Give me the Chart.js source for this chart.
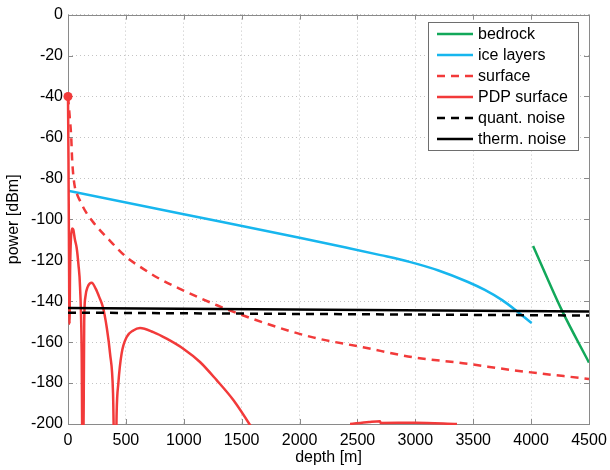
<!DOCTYPE html>
<html>
<head>
<meta charset="utf-8">
<script src="https://cdn.jsdelivr.net/npm/chart.js@4/dist/chart.umd.min.js"></script>
<style>
  html, body { margin: 0; padding: 0; background: #fff; }
  #wrap { width: 610px; height: 470px; }
</style>
</head>
<body>
<div id="wrap"><canvas id="powerChart"></canvas></div>
<script>
// axis ticks
const xTicks = [0, 500, 1000, 1500, 2000, 2500, 3000, 3500, 4000, 4500];
const yTicks = [0, -20, -40, -60, -80, -100, -120, -140, -160, -180, -200];

// series (depth in m, power in dBm)
const bedrockDepth = [4017, 4266, 4500];
const bedrockPower = [-113, -144.5, -170];

const iceDepth = [0, 1000, 2000, 2400, 2700, 2950, 3200, 3450, 3600, 3750, 3880, 4005];
const icePower = [-86, -97.5, -109, -113.8, -117.5, -120.8, -125, -130.5, -134.5, -139.5, -145, -150.7];

const surfaceDepth = [0, 15, 28, 35, 45, 60, 80, 104, 150, 219, 363, 507, 650, 766, 967, 1287, 1684, 2116, 2548, 2980, 3412, 3843, 4500];
const surfacePower = [-40, -50, -60, -70, -78, -84.5, -88, -91, -96, -101.5, -110.5, -118.6, -124.2, -128.3, -134, -142, -150.4, -157.7, -162.5, -167.4, -170.3, -173.7, -178];

const pdpDepth = [0, 4, 8, 13, 18, 25, 35, 45, 60, 75, 90, 104, 118, 127,
  130, 140, 150, 170, 205, 240, 270, 302, 335, 363, 389, 406,
  410, 420, 435, 463, 507, 564, 622, 737, 852, 996, 1140, 1284, 1428, 1572, 1620,
  2000,
  2436, 2600, 2695, 2700, 3000, 3360];
const pdpPower = [-40, -70, -110, -151, -125, -110, -104.5, -105, -110, -114, -122, -133, -165, -235,
  -235, -150, -138, -133, -131, -134, -138, -143, -153, -165.5, -185, -235,
  -235, -195, -180, -165.6, -157.5, -154.3, -153.1, -155.1, -158.3, -163.2, -169.7, -178.6, -188.3, -200.5, -205,
  null,
  -200, -199, -198.6, -199.5, -199.4, -200];

const quantDepth = [0, 4500];
const quantPower = [-145.6, -147];
const thermDepth = [0, 4500];
const thermPower = [-143.3, -145];

const zip = (xs, ys) => xs.map((x, i) => ({ x: x, y: ys[i] }));

const FONT = 'Liberation Sans, Arial, Helvetica, sans-serif';
const RED = '#f23a3a';

// axes box with inward ticks, drawn under the curves
const axesBox = {
    id: 'axesBox',
    beforeDatasetsDraw(chart) {
        const { ctx, chartArea: a, scales } = chart;
        ctx.save();
        ctx.strokeStyle = '#8a8a8a';
        ctx.lineWidth = 1;
        ctx.strokeRect(Math.round(a.left) + 0.5, Math.round(a.top) + 0.5,
            Math.round(a.right - a.left), Math.round(a.bottom - a.top));
        ctx.beginPath();
        xTicks.forEach(v => {
            const px = Math.round(scales.x.getPixelForValue(v)) + 0.5;
            ctx.moveTo(px, a.bottom); ctx.lineTo(px, a.bottom - 5);
            ctx.moveTo(px, a.top); ctx.lineTo(px, a.top + 5);
        });
        yTicks.forEach(v => {
            const py = Math.round(scales.y.getPixelForValue(v)) + 0.5;
            ctx.moveTo(a.left, py); ctx.lineTo(a.left + 5, py);
            ctx.moveTo(a.right, py); ctx.lineTo(a.right - 5, py);
        });
        ctx.stroke();
        ctx.restore();
    }
};

// legend box in the upper right corner
const cornerLegend = {
    id: 'cornerLegend',
    afterDatasetsDraw(chart) {
        const { ctx } = chart;
        const bx = 428, by = 22, bw = 150, bh = 128;
        ctx.save();
        ctx.fillStyle = '#fff';
        ctx.fillRect(bx, by, bw, bh);
        ctx.strokeStyle = '#6e6e6e';
        ctx.lineWidth = 1;
        ctx.strokeRect(bx + 0.5, by + 0.5, bw, bh);
        ctx.font = '16px ' + FONT;
        ctx.textBaseline = 'middle';
        chart.data.datasets.forEach((ds, i) => {
            const y = by + 12 + i * 21;
            ctx.strokeStyle = ds.borderColor;
            ctx.lineWidth = 2.5;
            ctx.setLineDash(ds.borderDash || []);
            ctx.beginPath();
            ctx.moveTo(437, y); ctx.lineTo(473, y);
            ctx.stroke();
            ctx.setLineDash([]);
            ctx.fillStyle = '#000';
            ctx.fillText(ds.label, 478, y + 1);
        });
        ctx.restore();
    }
};

const line = (label, xs, ys, color, dash, extra) => Object.assign({
    label: label,
    data: zip(xs, ys),
    borderColor: color,
    backgroundColor: color,
    borderWidth: 2.5,
    borderDash: dash,
    pointRadius: 0,
    fill: false,
    spanGaps: false,
    cubicInterpolationMode: 'monotone'
}, extra || {});

new Chart(document.getElementById('powerChart'), {
    type: 'line',
    data: {
        datasets: [
            line('bedrock', bedrockDepth, bedrockPower, '#12a85a', [], { order: 6 }),
            line('ice layers', iceDepth, icePower, '#17b6ee', [], { order: 5 }),
            line('surface', surfaceDepth, surfacePower, RED, [8, 6], { order: 4 }),
            line('PDP surface', pdpDepth, pdpPower, RED, [], {
                order: 3,
                clip: { left: 6, top: 2, right: 2, bottom: 1 },
                pointRadius: ctx => ctx.dataIndex === 0 ? 4.5 : 0,
                pointBackgroundColor: RED,
                pointBorderColor: RED,
                pointBorderWidth: 0
            }),
            line('quant. noise', quantDepth, quantPower, '#000', [8, 6], { order: 2 }),
            line('therm. noise', thermDepth, thermPower, '#000', [], { order: 1 })
        ]
    },
    options: {
        responsive: true,
        maintainAspectRatio: false,
        animation: false,
        layout: { padding: { top: 13, right: 21, left: 0, bottom: 0 } },
        plugins: { legend: { display: false }, tooltip: { enabled: false } },
        scales: {
            x: {
                type: 'linear',
                min: 0,
                max: 4500,
                afterBuildTicks: s => { s.ticks = xTicks.map(v => ({ value: v })); },
                afterFit: s => { s.height = 46; },
                ticks: { color: '#000', font: { family: FONT, size: 16 }, padding: 2, maxRotation: 0, callback: v => String(v) },
                grid: { color: '#c4c4c4', drawTicks: true, tickLength: 5, tickColor: 'rgba(0,0,0,0)', lineWidth: 1 },
                border: { display: false, dash: [1, 3] },
                title: { display: true, text: 'depth [m]', color: '#000', font: { family: FONT, size: 16 }, padding: { top: 0, bottom: 3 } }
            },
            y: {
                type: 'linear',
                min: -200,
                max: 0,
                afterBuildTicks: s => { s.ticks = yTicks.map(v => ({ value: v })); },
                afterFit: s => { s.width = 68; },
                ticks: { color: '#000', font: { family: FONT, size: 16 }, padding: 5, callback: v => String(v) },
                grid: { color: '#c4c4c4', drawTicks: false, lineWidth: 1 },
                border: { display: false, dash: [1, 3] },
                title: { display: true, text: 'power [dBm]', color: '#000', font: { family: FONT, size: 16 }, padding: { top: 4, bottom: 0 } }
            }
        }
    },
    plugins: [axesBox, cornerLegend]
});
</script>
</body>
</html>
